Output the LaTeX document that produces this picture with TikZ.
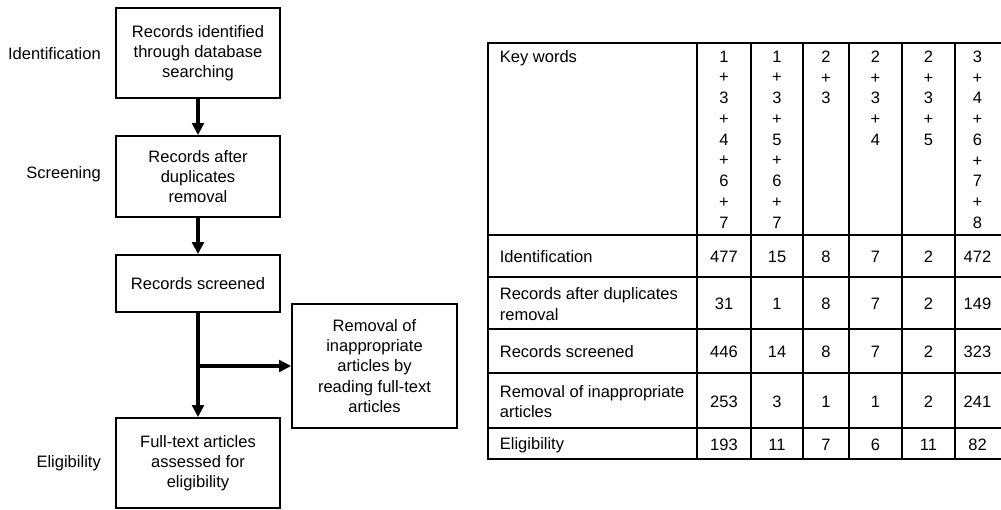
\documentclass[tikz,border=0pt]{standalone}
\usepackage{fontspec}
\setmainfont{Liberation Sans}
\usepackage{tikz}
\usetikzlibrary{arrows.meta,positioning}

\tikzset{
    txt/.style={font=\fontsize{9.4}{11.5}\selectfont},
    box/.style={txt, draw, line width=1pt, align=center, minimum width=3.28cm, inner sep=2pt},
    flow/.style={line width=2.4pt, -{Triangle[length=6.8pt,width=6.6pt]}},
    stage/.style={txt, anchor=east},
    cell/.style={font=\fontsize{9.4}{11.8}\selectfont, align=center, inner sep=2pt},
    rowlabel/.style={txt, align=left, anchor=west, inner sep=2pt},
}

\begin{document}
\begin{tikzpicture}[x=0.02cm,y=-0.02cm]
    \useasboundingbox (0,0) rectangle (1001,510);

    % flow chart
    \node[box, minimum height=1.8cm] (ident) at (198,53) {Records identified\\through database\\searching};
    \node[box, minimum height=1.62cm] (dup) at (198,176.5) {Records after\\duplicates\\removal};
    \node[box, minimum height=1.14cm] (screen) at (198,283.5) {Records screened};
    \node[box, minimum height=1.8cm] (elig) at (198,463) {Full-text articles\\assessed for\\eligibility};
    \node[box, minimum width=3.3cm, minimum height=2.48cm] (removal) at (374.5,366) {Removal of\\inappropriate\\articles by\\reading full-text\\articles};

    \node[stage] (s-ident) at (107,54) {Identification};
    \node[stage] (s-screen) at (107,174) {Screening};
    \node[stage] (s-elig) at (107,463) {Eligibility};

    \draw[flow] (ident) -- (dup);
    \draw[flow] (dup) -- (screen);
    \draw[flow] (screen) -- (elig);
    \coordinate (branch) at (198,366);
    \draw[flow] (branch) -- (removal.west);

    % table
    \draw[line width=0.8pt] (1001,43) -- (488,43) -- (488,459) -- (1001,459);
    \foreach \x in {697,751,803,849,902,955}
        \draw[line width=0.8pt] (\x,43) -- (\x,459);
    \foreach \y in {235,277,329,373,428}
        \draw[line width=0.8pt] (488,\y) -- (1001,\y);

    \node[rowlabel, anchor=north west] (kw) at (496,47) {Key words};
    \node[rowlabel] (r-ident) at (496,257) {Identification};
    \node[rowlabel] (r-dup) at (496,304) {Records after duplicates\\removal};
    \node[rowlabel] (r-screen) at (496,352) {Records screened};
    \node[rowlabel] (r-removal) at (496,401.5) {Removal of inappropriate\\articles};
    \node[rowlabel] (r-elig) at (496,445) {Eligibility};

    \foreach \x/\k [count=\i] in {724/{1\\+\\3\\+\\4\\+\\6\\+\\7}, 777/{1\\+\\3\\+\\5\\+\\6\\+\\7},
        826/{2\\+\\3}, 875.5/{2\\+\\3\\+\\4}, 928.5/{2\\+\\3\\+\\5}, 977.5/{3\\+\\4\\+\\6\\+\\7\\+\\8}}
        \node[cell, anchor=north] (kw-\i) at (\x,47) {\k};

    \foreach \x/\v [count=\i] in {724/477, 777/15, 826/8, 875.5/7, 928.5/2, 977.5/472}
        \node[cell] (ident-\i) at (\x,257) {\v};
    \foreach \x/\v [count=\i] in {724/31, 777/1, 826/8, 875.5/7, 928.5/2, 977.5/149}
        \node[cell] (dup-\i) at (\x,304) {\v};
    \foreach \x/\v [count=\i] in {724/446, 777/14, 826/8, 875.5/7, 928.5/2, 977.5/323}
        \node[cell] (screen-\i) at (\x,352) {\v};
    \foreach \x/\v [count=\i] in {724/253, 777/3, 826/1, 875.5/1, 928.5/2, 977.5/241}
        \node[cell] (removal-\i) at (\x,401.5) {\v};
    \foreach \x/\v [count=\i] in {724/193, 777/11, 826/7, 875.5/6, 928.5/11, 977.5/82}
        \node[cell] (elig-\i) at (\x,445) {\v};
\end{tikzpicture}
\end{document}
